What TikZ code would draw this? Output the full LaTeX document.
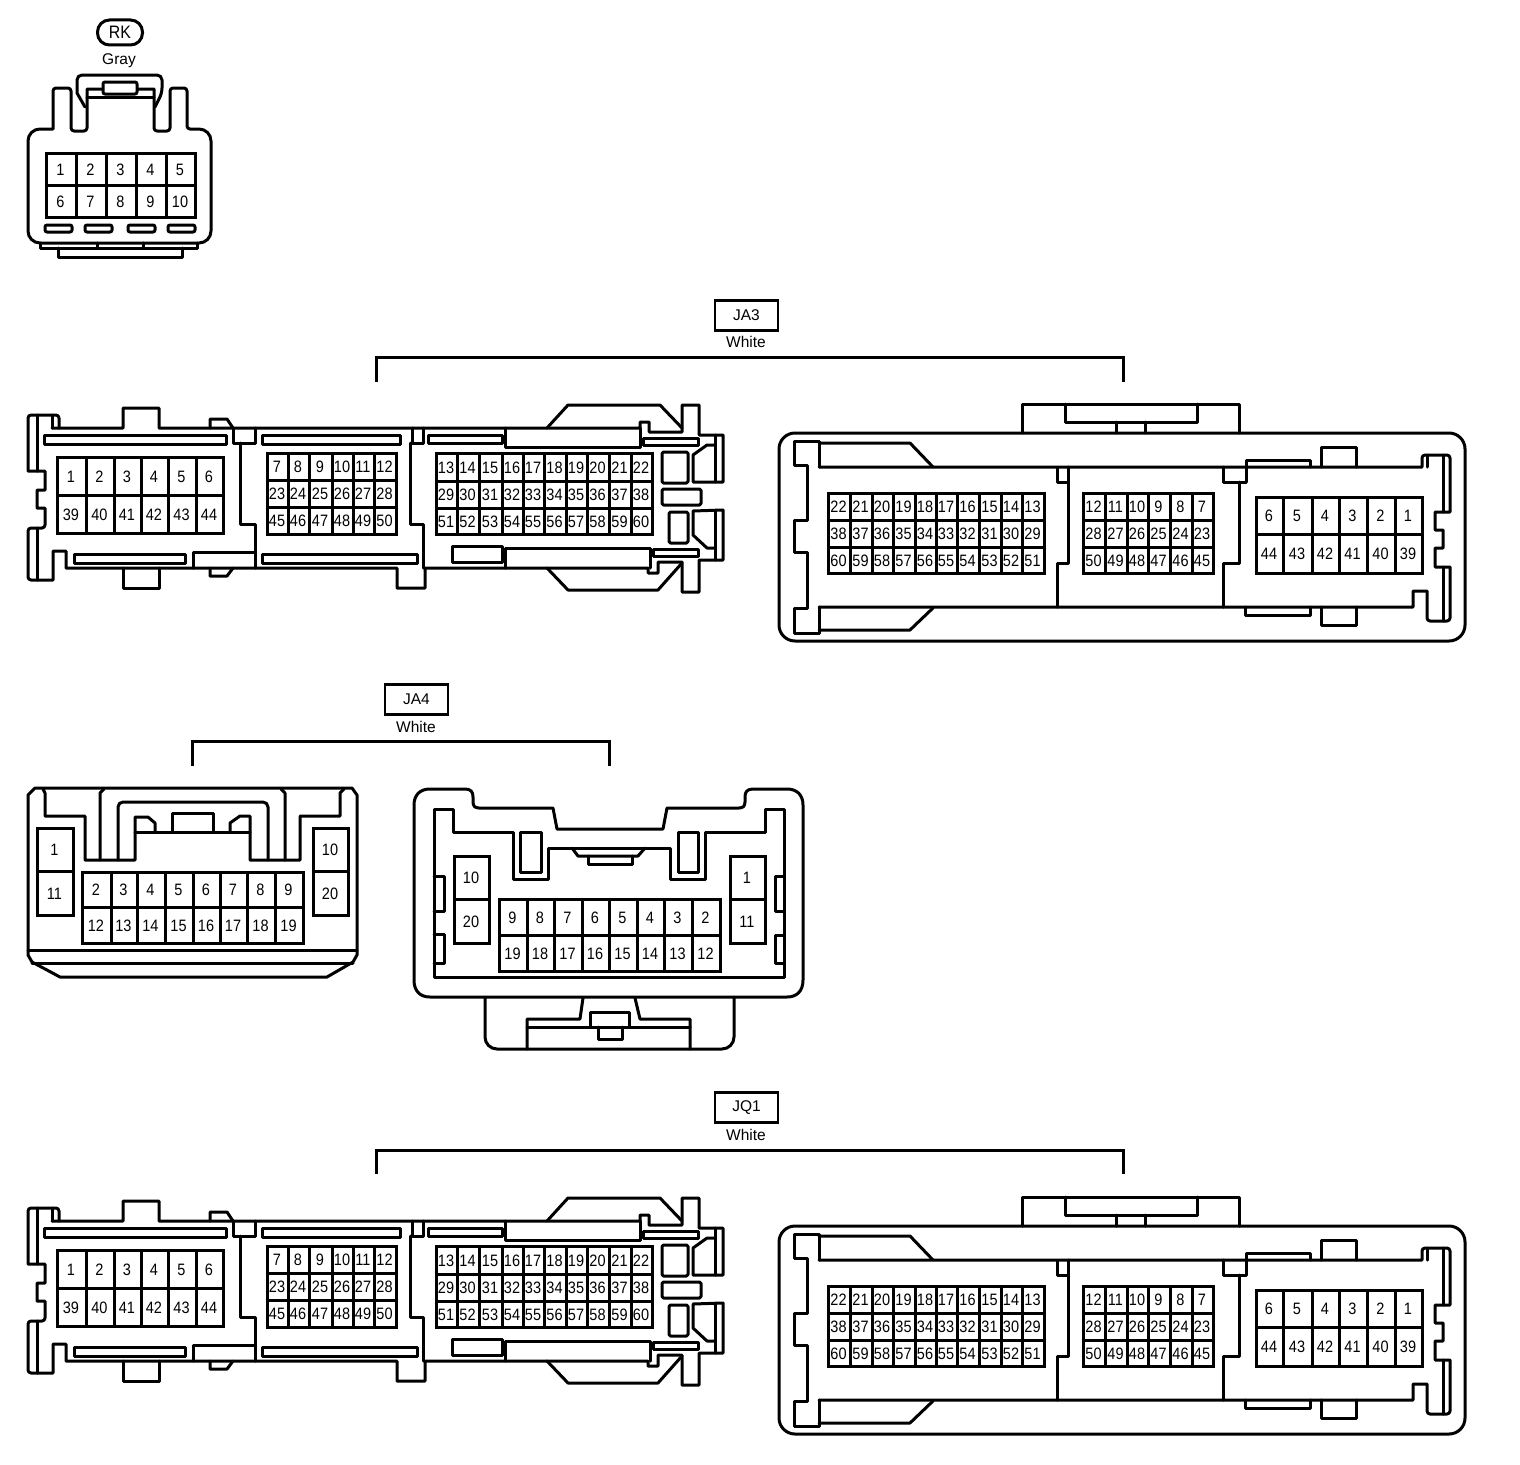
\documentclass[tikz,border=0pt]{standalone}
\usepackage{fontspec}
\setmainfont{Liberation Sans}
\newfontfamily\pinfont[FakeStretch=0.88]{Liberation Sans}
\newcount\pinctr
\tikzset{
  ol/.style={line width=3pt,line cap=round,line join=round,black},
  cell/.style={line width=3pt,line join=miter,black},
  pinlabel/.style={inner sep=0pt,font=\pinfont\fontsize{16.5pt}{17pt}\selectfont},
  tagbox/.style={draw,line width=2.2pt,minimum width=63pt,minimum height=30pt,inner sep=0pt,font=\fontsize{15.5pt}{16pt}\selectfont},
  colourname/.style={inner sep=0pt,font=\fontsize{15.5pt}{16pt}\selectfont},
  bracket/.style={line width=3pt,line join=miter},
}
\newcommand{\pinrow}[4]{%
  \foreach \lab [count=\idx] in {#4} {%
    \pgfmathsetmacro\xa{{#3}[\idx-1]}%
    \pgfmathsetmacro\xb{{#3}[\idx]}%
    \global\advance\pinctr by 1
    \draw[cell] (\xa,#1) rectangle (\xb,#2);
    \node[pinlabel] (pin\the\pinctr) at ({(\xa+\xb)/2-0.5},{(#1+#2)/2+0.5}) {\lab};
  }%
}
\newcommand{\connA}{%
  % wall and main outline
  \draw[ol] (52,428) -- (123,428) -- (123,408) -- (159,408) -- (159,428) -- (640,428) -- (640,422) -- (649,422) -- (649,432) -- (682,432) -- (682,405) -- (699,405) -- (699,435) -- (723,435) -- (723,482) -- (693,482) -- (693,455) -- (707,445) -- (715,445);
  \draw[ol] (715,435) -- (715,482);
  \draw[ol] (715,548) -- (707,548) -- (693,535) -- (693,511) -- (723,510) -- (723,560) -- (699,560) -- (699,592) -- (682,592) -- (682,562) -- (658,562) -- (658,573) -- (648,573) -- (648,568) -- (425,568) -- (425,588) -- (397,588) -- (397,568) -- (66,568) -- (66,551) -- (53,551) -- (53,580) -- (31,580) [rounded corners=3pt] -- (28,580) -- (28,528) -- (45,528) [sharp corners] -- (45,508) -- (37,508) -- (37,490) -- (45,490) -- (45,471) -- (28,471) [rounded corners=3pt] -- (28,415) -- (59,415) -- (59,428);
  \draw[ol] (715,510) -- (715,560);
  \draw[ol] (37,415) -- (37,471);
  \draw[ol] (37,528) -- (37,580);
  \draw[ol] (52,415) -- (52,428);
  \draw[ol] (123,568) -- (123,588) -- (159,588) -- (159,568);
  \draw[ol] (547,428) -- (568,405) -- (660,405) -- (682,428);
  \draw[ol] (547,568) -- (568,590) -- (658,590) -- (682,563);
  \draw[ol] (210,428) -- (210,419) -- (227,419) -- (233,428);
  \draw[ol] (210,568) -- (210,576) -- (227,576) -- (233,568);
  % slots
  \draw[ol] (44,435) rectangle (226,444);
  \draw[ol] (262,435) rectangle (400,444);
  \draw[ol] (428,435) rectangle (502,443);
  \draw[ol] (74,554) rectangle (185,563);
  \draw[ol] (262,554) rectangle (417,563);
  \draw[ol] (643,438) rectangle (698,445);
  \draw[ol] (653,549) rectangle (698,556);
  % partitions
  \draw[ol] (233,428) -- (233,443) -- (255,443) -- (255,428);
  \draw[ol] (240,443) -- (240,524) -- (255,524) -- (255,568);
  \draw[ol] (193,568) -- (193,552) -- (255,552);
  \draw[ol] (412,428) -- (412,443) -- (423,443) -- (423,428);
  \draw[ol] (410,443) -- (410,524) -- (423,524) -- (423,568);
  \draw[ol] (505,428) -- (505,447) -- (640,447) -- (640,428);
  \draw[ol] (505,568) -- (505,548) -- (650,548) -- (650,568);
  \draw[ol] (452,546) rectangle (502,562);
  \draw[ol,rounded corners=1.5pt] (662,452) rectangle (688,483);
  \draw[ol,rounded corners=1.5pt] (662,489) rectangle (701,505);
  \draw[ol,rounded corners=1.5pt] (669,512) rectangle (688,543);
  % pins
  \pinrow{457}{495}{57,86,114,141,168,196,223}{1,2,3,4,5,6}
  \pinrow{495}{533}{57,86,114,141,168,196,223}{39,40,41,42,43,44}
  \pinrow{453}{480}{267,288,309,332,353,374,396}{7,8,9,10,11,12}
  \pinrow{480}{507}{267,288,309,332,353,374,396}{23,24,25,26,27,28}
  \pinrow{507}{534}{267,288,309,332,353,374,396}{45,46,47,48,49,50}
  \pinrow{453}{481}{436,457,479,502,523,544,566,587,609,631,652}{13,14,15,16,17,18,19,20,21,22}
  \pinrow{481}{508}{436,457,479,502,523,544,566,587,609,631,652}{29,30,31,32,33,34,35,36,37,38}
  \pinrow{508}{534}{436,457,479,502,523,544,566,587,609,631,652}{51,52,53,54,55,56,57,58,59,60}
}
\newcommand{\connB}{%
  \draw[ol,rounded corners=16pt] (779,433) rectangle (1465,641);
  \draw[ol] (1022,433) -- (1022,404) -- (1239,404) -- (1239,433);
  \draw[ol] (1065,404) -- (1065,422) -- (1197,422) -- (1197,404);
  \draw[ol] (1116,422) -- (1116,433);
  \draw[ol] (1145,422) -- (1145,433);
  % inner outline
  \draw[ol] (819,467) -- (819,441) -- (794,441) -- (794,465) -- (807,465) -- (807,520) -- (794,520) -- (794,552) -- (807,552) -- (807,608) -- (794,608) -- (794,633) -- (819,633) -- (819,607);
  \draw[ol] (819,443) -- (910,443) -- (933,467);
  \draw[ol] (819,630) -- (910,630) -- (933,608);
  \draw[ol] (819,467) -- (1422,467) [rounded corners=3pt] -- (1422,455) -- (1450,455) [sharp corners] -- (1450,512) -- (1435,512) -- (1435,530) -- (1443,530) -- (1443,548) -- (1435,548) -- (1435,567) -- (1450,567) [rounded corners=3pt] -- (1450,621) -- (1427,621) [sharp corners] -- (1427,591) -- (1413,591) -- (1413,607) -- (819,607);
  \draw[ol] (1443,455) -- (1443,512);
  \draw[ol] (1443,567) -- (1443,621);
  \draw[ol] (1427,455) -- (1427,467);
  % partitions
  \draw[ol] (1057,468) -- (1057,482) -- (1068,482);
  \draw[ol] (1068,467) -- (1068,563) -- (1057,563) -- (1057,607);
  \draw[ol] (1223,467) -- (1223,482) -- (1246,482);
  \draw[ol] (1239,482) -- (1239,563) -- (1223,563) -- (1223,607);
  \draw[ol] (1246,482) -- (1246,460) -- (1310,460) -- (1310,467);
  \draw[ol] (1245,607) -- (1245,615) -- (1310,615) -- (1310,607);
  \draw[ol] (1321,467) -- (1321,447) -- (1356,447) -- (1356,467);
  \draw[ol] (1321,607) -- (1321,625) -- (1356,625) -- (1356,607);
  % pins
  \pinrow{493}{520}{828,850,872,893,915,936,957,979,1001,1022,1044}{22,21,20,19,18,17,16,15,14,13}
  \pinrow{520}{547}{828,850,872,893,915,936,957,979,1001,1022,1044}{38,37,36,35,34,33,32,31,30,29}
  \pinrow{547}{573}{828,850,872,893,915,936,957,979,1001,1022,1044}{60,59,58,57,56,55,54,53,52,51}
  \pinrow{493}{520}{1083,1105,1127,1148,1170,1192,1213}{12,11,10,9,8,7}
  \pinrow{520}{547}{1083,1105,1127,1148,1170,1192,1213}{28,27,26,25,24,23}
  \pinrow{547}{573}{1083,1105,1127,1148,1170,1192,1213}{50,49,48,47,46,45}
  \pinrow{497}{534}{1256,1283,1312,1339,1367,1395,1422}{6,5,4,3,2,1}
  \pinrow{534}{573}{1256,1283,1312,1339,1367,1395,1422}{44,43,42,41,40,39}
}
\begin{document}
\begin{tikzpicture}[x=1pt,y=-1pt]
\useasboundingbox (0,0) rectangle (1520,1464);
% ---------- RK ----------
\node[draw,line width=3pt,rounded corners=12pt,minimum width=45pt,minimum height=25pt,inner sep=0pt,font=\pinfont\fontsize{18pt}{19pt}\selectfont] (rk) at (120,32.5) {RK};
\node[colourname] (rkc) at (119,61) {Gray};
\draw[ol] (53,129) [rounded corners=3pt] -- (53,88) -- (71,88) -- (71,131) -- (87,131) [sharp corners] -- (87,89) -- (154,89) [rounded corners=3pt] -- (154,131) -- (170,131) -- (170,88) -- (187,88) -- (187,129) [sharp corners] -- (195,129) [rounded corners=12pt] -- (211,129) -- (211,243) -- (28,243) -- (28,129) -- (53,129);
\draw[ol] (85,107) -- (77,93) [rounded corners=5pt] -- (77,75) -- (162,75) -- (162,93) [sharp corners] -- (155,107);
\draw[ol] (87,97) -- (154,97);
\draw[ol,rounded corners=2pt,fill=white] (103,82) rectangle (137,94);
\draw[ol] (40,243) -- (40,248) -- (197,248) -- (197,243);
\draw[ol] (58,248) -- (58,257) -- (182,257) -- (182,248);
\draw[ol] (97,243) -- (97,248);
\draw[ol] (143,243) -- (143,248);
\foreach \xa/\xb in {45/72,85/112,128/155,168/195} \draw[ol,rounded corners=2pt] (\xa,225) rectangle (\xb,232);
\pinrow{153}{185}{46,76,106,136,166,195}{1,2,3,4,5}
\pinrow{185}{217}{46,76,106,136,166,195}{6,7,8,9,10}
% ---------- JA3 ----------
\node[tagbox] (ja3) at (746.5,315.5) {JA3};
\node[colourname] (ja3c) at (746,342) {White};
\coordinate (ja3l) at (376,382);
\coordinate (ja3r) at (1123,382);
\draw[bracket] (ja3l) -- (376,357) -- (1123,357) -- (ja3r);
\connA
\connB
% ---------- JA4 ----------
\node[tagbox] (ja4) at (416.5,699.5) {JA4};
\node[colourname] (ja4c) at (416,727) {White};
\coordinate (ja4l) at (192,766);
\coordinate (ja4r) at (609,766);
\draw[bracket] (ja4l) -- (192,741) -- (609,741) -- (ja4r);
% left JA4
\draw[ol] (35,788) -- (352,788) -- (357,795) -- (357,955) -- (353,962) -- (327,977) -- (60,977) -- (32,962) -- (28,955) -- (28,795) -- cycle;
\draw[ol] (28,950) -- (357,950);
\draw[ol] (32,963) -- (353,963);
\draw[ol] (43,789) -- (45,793) -- (45,816) -- (85,816) -- (85,860) -- (135,860) -- (135,817) -- (148,817) -- (155,823) -- (155,832);
\draw[ol] (135,832) -- (250,832);
\draw[ol] (172,832) -- (172,813) -- (213,813) -- (213,832);
\draw[ol] (230,832) -- (230,823) -- (240,816) -- (250,816) -- (250,860) -- (300,860) -- (300,816) -- (340,816) -- (340,793) -- (344,789);
\draw[ol] (100,860) -- (100,793) -- (104,789);
\draw[ol] (285,860) -- (285,793) -- (281,789);
\draw[ol,rounded corners=5pt] (118,860) -- (118,802) -- (268,802) -- (268,860);
\pinrow{828}{871}{37,73}{1}
\pinrow{871}{915}{37,73}{11}
\pinrow{828}{871}{313,348}{10}
\pinrow{871}{915}{313,348}{20}
\pinrow{872}{907}{82,111,137,165,193,220,247,275,303}{2,3,4,5,6,7,8,9}
\pinrow{907}{943}{82,111,137,165,193,220,247,275,303}{12,13,14,15,16,17,18,19}
% right JA4
\draw[ol] (414,805) .. controls (414,795) and (420,789) .. (430,789) -- (465,789) .. controls (471,789) and (473,792) .. (473,797) -- (473,802) .. controls (473,806) and (475,808) .. (479,808) -- (553,808) -- (557,829) -- (663,829) -- (667,808) -- (739,808) .. controls (743,808) and (745,806) .. (745,802) -- (745,797) .. controls (745,792) and (747,789) .. (753,789) -- (787,789) .. controls (797,789) and (803,795) .. (803,805) -- (803,980) .. controls (803,991) and (797,997) .. (787,997) -- (430,997) .. controls (420,997) and (414,991) .. (414,980) -- cycle;
\draw[ol] (434,809) -- (453,809) -- (453,832) -- (513,832) -- (513,879) -- (548,879) -- (548,848) -- (670,848) -- (670,879) -- (705,879) -- (705,832) -- (765,832) -- (765,809) -- (784,809) -- (784,977) -- (434,977) -- cycle;
\draw[ol] (520,832) rectangle (541,872);
\draw[ol] (678,832) rectangle (698,872);
\draw[ol] (572,848) -- (578,856) -- (638,856) -- (645,848);
\draw[ol] (588,856) -- (588,864) -- (632,864) -- (632,856);
\draw[ol] (434,876) -- (444,876) -- (444,911) -- (434,911);
\draw[ol] (434,934) -- (444,934) -- (444,963) -- (434,963);
\draw[ol] (784,876) -- (775,876) -- (775,911) -- (784,911);
\draw[ol] (784,935) -- (775,935) -- (775,963) -- (784,963);
\pinrow{856}{899}{454,489}{10}
\pinrow{899}{943}{454,489}{20}
\pinrow{856}{899}{730,765}{1}
\pinrow{899}{943}{730,765}{11}
\pinrow{899}{935}{499,527,554,582,609,637,664,692,720}{9,8,7,6,5,4,3,2}
\pinrow{935}{971}{499,527,554,582,609,637,664,692,720}{19,18,17,16,15,14,13,12}
\draw[ol,rounded corners=12pt] (485,997) -- (485,1049) -- (734,1049) -- (734,997);
\draw[ol] (527,1049) -- (527,1019) -- (580,1019) -- (583,998);
\draw[ol] (690,1049) -- (690,1019) -- (640,1019) -- (635,998);
\draw[ol] (527,1027) -- (690,1027);
\draw[ol] (590,1027) -- (590,1012) -- (629,1012) -- (629,1027);
\draw[ol] (598,1027) -- (598,1039) -- (622,1039) -- (622,1027);
% ---------- JQ1 ----------
\node[tagbox] (jq1) at (746.5,1107.5) {JQ1};
\node[colourname] (jq1c) at (746,1135) {White};
\coordinate (jq1l) at (376,1174);
\coordinate (jq1r) at (1123,1174);
\draw[bracket] (jq1l) -- (376,1150) -- (1123,1150) -- (jq1r);
\begin{scope}[shift={(0,793)}]
\connA
\connB
\end{scope}
\end{tikzpicture}
\end{document}
